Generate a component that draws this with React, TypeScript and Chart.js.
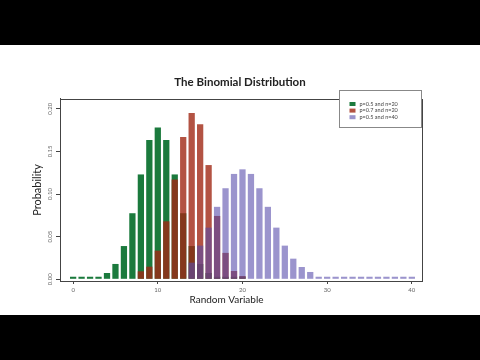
import React, { useEffect, useRef } from "react";
import { Chart, registerables } from "chart.js";
Chart.register(...registerables);

const chartTitle = "The Binomial Distribution";
const xTitle = "Random Variable";
const yTitle = "Probability";
const legendLabels = ["p=0.5 and n=20", "p=0.7 and n=20", "p=0.5 and n=40"];
const yTickValues = [0, 0.05, 0.1, 0.15, 0.2];

const greenX = [0, 1, 2, 3, 4, 5, 6, 7, 8, 9, 10, 11, 12, 13, 14, 15, 16, 17, 18, 19, 20];
const greenY = [0.003, 0.003, 0.003, 0.003, 0.0074, 0.018, 0.039, 0.0775, 0.123, 0.1635, 0.178, 0.1635, 0.123, 0.0775, 0.039, 0.018, 0.0074, 0.003, 0.003, 0.003, 0.003];

const redX = [8, 9, 10, 11, 12, 13, 14, 15, 16, 17, 18, 19, 20];
const redY = [0.0094, 0.0148, 0.0336, 0.068, 0.117, 0.167, 0.195, 0.182, 0.134, 0.0743, 0.031, 0.0097, 0.0039];

const purpleX = [14, 15, 16, 17, 18, 19, 20, 21, 22, 23, 24, 25, 26, 27, 28, 29, 30, 31, 32, 33, 34, 35, 36, 37, 38, 39, 40];
const purpleY = [0.0195, 0.0395, 0.0606, 0.085, 0.1068, 0.1236, 0.129, 0.1236, 0.1068, 0.085, 0.0606, 0.0395, 0.0242, 0.0144, 0.0086, 0.003, 0.003, 0.003, 0.003, 0.003, 0.003, 0.003, 0.003, 0.003, 0.003, 0.003, 0.003];

const colors = ["rgba(27,122,61,1)", "rgba(160,40,20,0.8)", "rgba(88,77,172,0.6)"];

export default function App() {
  const ref = useRef<HTMLCanvasElement | null>(null);
  useEffect(() => {
    if (!ref.current) return;
    const frame = {
      id: "frame",
      afterDatasetsDraw(chart: any) {
        const { ctx, chartArea } = chart;
        ctx.save();
        ctx.strokeStyle = "#444";
        ctx.lineWidth = 1;
        ctx.strokeRect(Math.round(chartArea.left) + 0.5, Math.round(chartArea.top) + 0.5, Math.round(chartArea.right - chartArea.left), Math.round(chartArea.bottom - chartArea.top));
        const ys = chart.scales.y;
        ctx.fillStyle = "#666";
        ctx.font = "6px Lato";
        ctx.textAlign = "center";
        ctx.textBaseline = "middle";
        yTickValues.forEach((v) => {
          const py = ys.getPixelForValue(v);
          ctx.save();
          ctx.translate(chartArea.left - 10, py);
          ctx.rotate(-Math.PI / 2);
          ctx.fillText(v.toFixed(2), 0, 0);
          ctx.restore();
        });
        ctx.fillStyle = "#222";
        ctx.font = "10px Lato";
        ctx.fillText(xTitle, chartArea.left + (chartArea.right - chartArea.left) * 0.46, chartArea.bottom + 19);
        ctx.restore();
      },
      afterDraw(chart: any) {
        const { ctx, chartArea } = chart;
        const w = 82, h = 37;
        const left = Math.round(chartArea.right) - 83 + 0.5;
        const top = Math.round(chartArea.top) - 9 + 0.5;
        ctx.save();
        ctx.fillStyle = "#fff";
        ctx.fillRect(left, top, w, h);
        ctx.strokeStyle = "#888";
        ctx.lineWidth = 1;
        ctx.strokeRect(left, top, w, h);
        ctx.font = "5.5px Lato";
        ctx.textBaseline = "middle";
        ctx.textAlign = "left";
        legendLabels.forEach((lab, i) => {
          const cy = top + 13.5 + i * 6.6;
          ctx.fillStyle = "#fff";
          ctx.fillRect(left + 10, cy - 2, 6, 4);
          ctx.fillStyle = colors[i];
          ctx.fillRect(left + 10, cy - 2, 6, 4);
          ctx.fillStyle = "#444";
          ctx.fillText(lab, left + 20, cy);
        });
        ctx.restore();
      },
    };
    const mk = (xs: number[], ys: number[]) => xs.map((x, i) => ({ x, y: ys[i] }));
    const chart = new Chart(ref.current, {
      type: "bar",
      data: {
        datasets: [
          { label: legendLabels[0], data: mk(greenX, greenY), backgroundColor: colors[0], order: 2 },
          { label: legendLabels[1], data: mk(redX, redY), backgroundColor: colors[1], order: 1 },
          { label: legendLabels[2], data: mk(purpleX, purpleY), backgroundColor: colors[2], order: 0 },
        ] as any,
      },
      options: {
        animation: false,
        responsive: false,
        maintainAspectRatio: false,
        layout: { padding: { left: 0, right: 0, top: 0, bottom: 0 } },
        datasets: { bar: { grouped: false, barPercentage: 0.74, categoryPercentage: 1 } } as any,
        plugins: {
          legend: { display: false },
          tooltip: { enabled: false },
          title: {
            display: true,
            text: chartTitle,
            color: "#222",
            font: { family: "Lato", size: 11.5, weight: "bold" },
            padding: { top: 30.1, bottom: 10 },
          },
        },
        scales: {
          x: {
            type: "linear",
            min: -1.55,
            max: 41.2,
            offset: false,
            border: { display: true, color: "#444" },
            grid: { display: true, drawOnChartArea: false, drawTicks: true, tickLength: 3, color: "#444", offset: false },
            ticks: { stepSize: 10, includeBounds: false, color: "#666", font: { family: "Lato", size: 6 }, padding: 2, maxRotation: 0, autoSkip: false },
            title: { display: false, text: xTitle },
            afterFit: (s: any) => { s.height = 34; },
          },
          y: {
            type: "linear",
            min: -0.002,
            max: 0.2116,
            border: { display: true, color: "#444" },
            grid: { display: true, drawOnChartArea: false, drawTicks: true, tickLength: 4, color: "#444" },
            ticks: { stepSize: 0.05, includeBounds: false, display: false },
            title: { display: true, text: yTitle, color: "#222", font: { family: "Lato", size: 11 }, padding: { top: 30.4, bottom: 0 } },
            afterFit: (s: any) => { s.width = 60; },
          },
          yRight: {
            type: "linear",
            position: "right",
            display: true,
            min: 0,
            max: 1,
            border: { display: false },
            grid: { display: false },
            ticks: { display: false },
            afterFit: (s: any) => { s.width = 58; },
          },
        },
      } as any,
      plugins: [frame],
    });
    return () => chart.destroy();
  }, []);
  return (
    <div style={{ position: "fixed", left: 0, top: 0, width: 480, height: 360, background: "#000" }}>
      <div style={{ position: "absolute", left: 0, top: 45, width: 480, height: 270, background: "#fff" }}>
        <canvas ref={ref} width={480} height={270} style={{ display: "block", width: 480, height: 270 }} />
      </div>
    </div>
  );
}
